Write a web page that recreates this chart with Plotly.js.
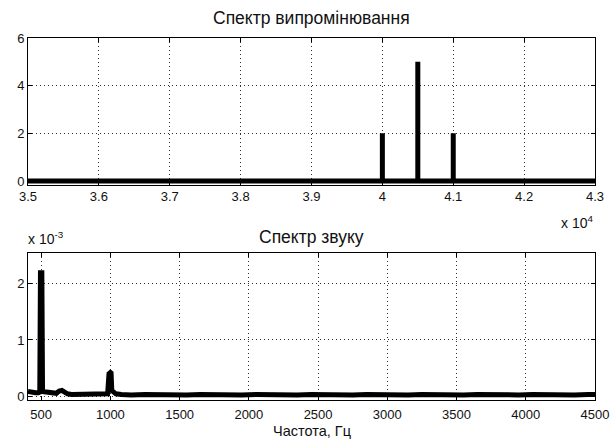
<!DOCTYPE html>
<html>
<head>
<meta charset="utf-8">
<script src="https://cdn.plot.ly/plotly-3.0.1.min.js"></script>
<style>
  html, body { margin: 0; padding: 0; background: #fff; }
  #chart { width: 612px; height: 441px; }
</style>
</head>
<body>
<div id="chart"></div>
<script>
// Radiation spectrum: spectral lines (Hz, amplitude)
const lineFreq = [40000, 40500, 41000];
const lineAmp = [2, 5, 2];
const radFreqStart = 35000;
const radFreqEnd = 43000;

// Sound spectrum (Hz, amplitude)
const soundFreq = [405, 420, 440, 460, 480, 490, 495, 500, 505, 510, 530, 550, 570, 590, 610, 630, 650, 670, 690,
  720, 760, 800, 850, 900, 950, 980, 990, 995, 1000, 1005, 1010, 1020, 1040, 1080, 1150, 1250, 1350, 1450,
  1550, 1650, 1750, 1850, 1950, 2050, 2150, 2250, 2350, 2450, 2550, 2650, 2750, 2850, 2950, 3050, 3150,
  3250, 3350, 3450, 3550, 3650, 3750, 3850, 3950, 4050, 4150, 4250, 4350, 4450, 4500];
const soundAmp = [0.00008, 0.00007, 0.00007, 0.00006, 0.00006, 0.00007, 0.0022, 0.00221, 0.0022, 0.00008,
  0.00007, 0.00006, 0.00005, 0.00006, 0.00005, 0.00009, 0.0001, 0.00007, 0.00004,
  0.00003, 0.00003, 0.00002, 0.00003, 0.00002, 0.00003, 0.00004, 0.0004, 0.00042, 0.00042, 0.00041, 0.0001,
  0.00008, 0.00004, 0.00003, 0.00002, 0.00003, 0.00002, 0.00003, 0.00002, 0.00003, 0.00002, 0.00003,
  0.00002, 0.00003, 0.00002, 0.00003, 0.00002, 0.00003, 0.00002, 0.00003, 0.00002, 0.00003, 0.00002,
  0.00003, 0.00002, 0.00003, 0.00002, 0.00003, 0.00002, 0.00003, 0.00002, 0.00003, 0.00002, 0.00003,
  0.00002, 0.00003, 0.00002, 0.00003, 0.00003];

// Tick labels
const radTickVals = [35000, 36000, 37000, 38000, 39000, 40000, 41000, 42000, 43000];
const radTickText = ['3.5', '3.6', '3.7', '3.8', '3.9', '4', '4.1', '4.2', '4.3'];
const soundTickVals = [500, 1000, 1500, 2000, 2500, 3000, 3500, 4000, 4500];
const soundYTickVals = [0, 0.001, 0.002];
const soundYTickText = ['0', '1', '2'];

// Build the radiation spectrum as a zero baseline with vertical stems
const radX = [radFreqStart];
const radY = [0];
lineFreq.forEach((f, i) => {
  radX.push(f, f, f);
  radY.push(0, lineAmp[i], 0);
});
radX.push(radFreqEnd);
radY.push(0);

const family = 'Liberation Sans, Arial, sans-serif';
const font = { family: family, size: 13, color: '#111' };

const baseAxis = {
  showline: true, linecolor: '#000', linewidth: 1, mirror: 'ticks',
  ticks: 'inside', ticklen: 4, tickcolor: '#000',
  showgrid: true, gridcolor: '#333', griddash: '1px,3px', gridwidth: 1,
  zeroline: false, tickfont: font
};

const traces = [
  { x: radX, y: radY, type: 'scatter', mode: 'lines', line: { color: '#000', width: 5 },
    xaxis: 'x', yaxis: 'y', hoverinfo: 'skip' },
  { x: soundFreq, y: soundAmp, type: 'scatter', mode: 'lines', line: { color: '#000', width: 5 },
    xaxis: 'x2', yaxis: 'y2', hoverinfo: 'skip' }
];

const annFont = (size) => ({ family: family, size: size, color: '#111' });

const layout = {
  width: 612, height: 441,
  margin: { l: 28, r: 17, t: 38, b: 41 },
  paper_bgcolor: '#fff', plot_bgcolor: '#fff',
  showlegend: false,
  font: font,
  xaxis: Object.assign({}, baseAxis, {
    domain: [0, 1], anchor: 'y', range: [radFreqStart, radFreqEnd],
    tickvals: radTickVals, ticktext: radTickText
  }),
  yaxis: Object.assign({}, baseAxis, {
    domain: [0.595, 1], anchor: 'x', range: [-0.15, 6],
    tickvals: [0, 2, 4, 6]
  }),
  xaxis2: Object.assign({}, baseAxis, {
    domain: [0, 1], anchor: 'y2', range: [405, 4500],
    tickvals: soundTickVals, ticklabelstandoff: 2
  }),
  yaxis2: Object.assign({}, baseAxis, {
    domain: [0, 0.406], anchor: 'x2', range: [-0.00007, 0.00255],
    tickvals: soundYTickVals, ticktext: soundYTickText
  }),
  annotations: [
    { text: 'Спектр випромінювання', xref: 'paper', yref: 'paper', x: 0.5, y: 1.055,
      xanchor: 'center', yanchor: 'middle', showarrow: false, font: annFont(17.5) },
    { text: 'Спектр звуку', xref: 'paper', yref: 'paper', x: 0.5, y: 0.45,
      xanchor: 'center', yanchor: 'middle', showarrow: false, font: annFont(17.5) },
    { text: 'Частота, Гц', xref: 'paper', yref: 'paper', x: 0.5, y: -0.086,
      xanchor: 'center', yanchor: 'middle', showarrow: false, font: annFont(14.5) },
    { text: 'x 10<sup>4</sup>', xref: 'paper', yref: 'paper', x: 0.968, y: 0.492,
      xanchor: 'center', yanchor: 'middle', showarrow: false, font: annFont(14) },
    { text: 'x 10<sup>-3</sup>', xref: 'paper', yref: 'paper', x: 0.031, y: 0.4475,
      xanchor: 'center', yanchor: 'middle', showarrow: false, font: annFont(14) }
  ]
};

Plotly.newPlot('chart', traces, layout, { staticPlot: true, displayModeBar: false });
</script>
</body>
</html>
